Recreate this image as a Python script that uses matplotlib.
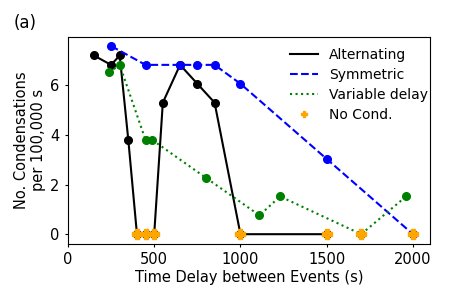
import matplotlib
matplotlib.use('Agg')
import matplotlib.pyplot as plt

plt.rcParams.update({'font.size': 10.5,
                     'xtick.major.size': 2.5,
                     'ytick.major.size': 2.5})

# Alternating
alt_t = [150, 250, 300, 350, 400, 450, 500, 550, 650, 750, 850, 1000, 1500]
alt_n = [7.2, 6.82, 7.2, 3.79, 0, 0, 0, 5.3, 6.82, 6.06, 5.3, 0, 0]

# Symmetric
sym_t = [250, 450, 650, 750, 850, 1000, 1500, 2000]
sym_n = [7.58, 6.82, 6.82, 6.82, 6.82, 6.06, 3.03, 0]

# Variable delay
var_t = [240, 300, 450, 490, 800, 1110, 1230, 1700, 1960]
var_n = [6.52, 6.82, 3.79, 3.79, 2.27, 0.76, 1.52, 0, 1.52]

# no condensation observed
nocond_t = [400, 450, 500, 1000, 1500, 1700, 2000]
nocond_n = [0, 0, 0, 0, 0, 0, 0]

fig, ax = plt.subplots(figsize=(4.5, 3), dpi=100)
fig.subplots_adjust(left=0.151, right=0.956, bottom=0.188, top=0.878)

ax.plot(alt_t, alt_n, 'k-', label='Alternating')
ax.plot(alt_t, alt_n, 'ko', ms=5.5)
ax.plot(sym_t, sym_n, 'b--', label='Symmetric')
ax.plot(sym_t, sym_n, 'bo', ms=5.5)
ax.plot(var_t, var_n, 'g:', label='Variable delay')
ax.plot(var_t, var_n, 'go', ms=5.5)
ax.plot(nocond_t, nocond_n, 'P', color='orange', ms=7, ls='none', label='No Cond.')

ax.set_xlim(0, 2100)
ax.set_xticks([0, 500, 1000, 1500, 2000])
ax.set_yticks([0, 2, 4, 6])
ax.set_xlabel('Time Delay between Events (s)', labelpad=2)
ax.set_ylabel('No. Condensations\nper 100,000 s', labelpad=3)
ax.legend(loc='upper right', bbox_to_anchor=(1.01, 0.974), frameon=False,
          fontsize=10, borderaxespad=0.0, labelspacing=0.45, markerscale=0.7)

fig.text(0.03, 0.905, '(a)', fontsize=12)

fig.savefig('out.png')
